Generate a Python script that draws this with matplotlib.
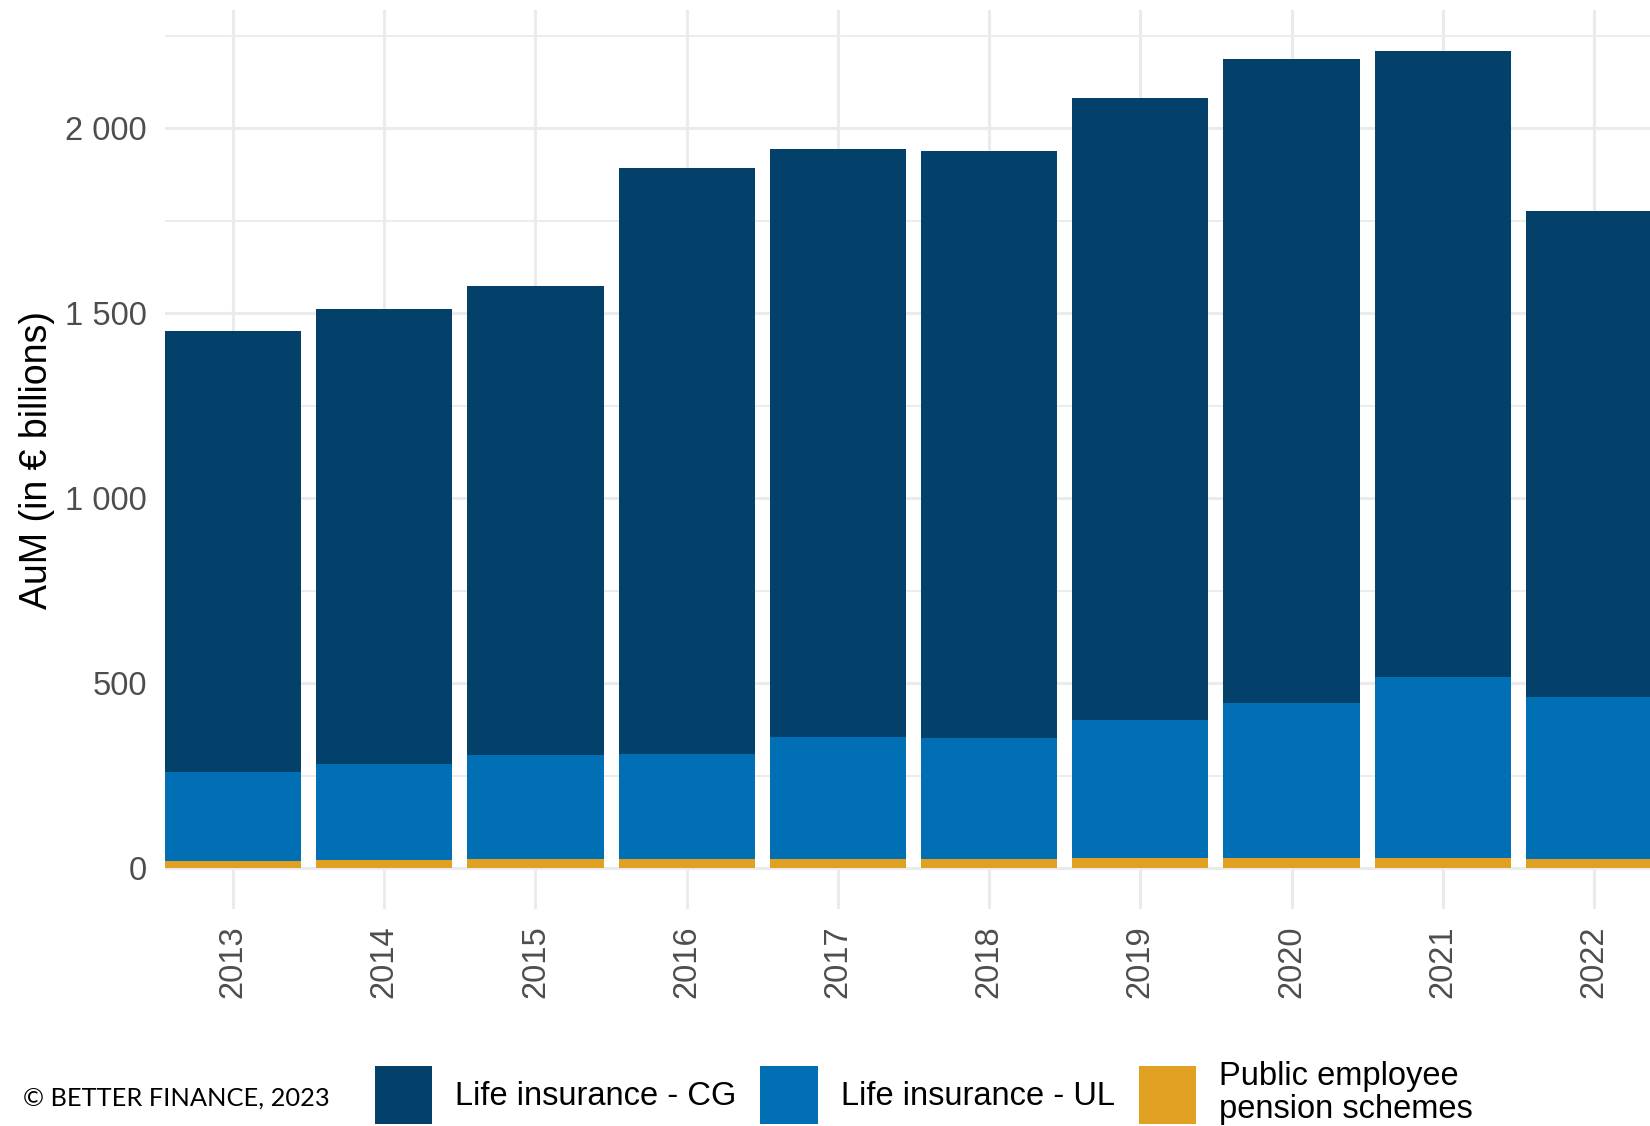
import numpy as np
import matplotlib
matplotlib.use("Agg")
import matplotlib.pyplot as plt
from matplotlib.ticker import FuncFormatter, MultipleLocator

plt.rcParams['font.family'] = ['Liberation Sans', 'DejaVu Sans']

# AuM par année (en milliards d'euros)
years = ['2013', '2014', '2015', '2016', '2017', '2018', '2019', '2020', '2021', '2022']
pension = [21, 22, 24, 25, 25, 26, 28, 29, 29, 24]
life_ul = [238, 260, 283, 285, 331, 327, 373, 418, 488, 439]
life_cg = [1192, 1231, 1266, 1584, 1587, 1587, 1681, 1740, 1692, 1313]

labels = ['Life insurance - CG', 'Life insurance - UL', 'Public employee\npension schemes']
colors = ['#03406A', '#006FB4', '#E0A021']

fig = plt.figure(figsize=(16.5, 11.26), dpi=100)
ax = fig.add_axes([165 / 1650, 1 - 909 / 1126, 1497 / 1650, 899 / 1126])

x = np.arange(len(years))
pension = np.array(pension)
life_ul = np.array(life_ul)
life_cg = np.array(life_cg)

# empilement : pension en bas, puis UL, puis CG
h_pen = ax.bar(x, pension, width=0.9, color=colors[2], zorder=3)
h_ul = ax.bar(x, life_ul, width=0.9, bottom=pension, color=colors[1], zorder=3)
h_cg = ax.bar(x, life_cg, width=0.9, bottom=pension + life_ul, color=colors[0], zorder=3)

ax.set_xlim(-0.45, 9.45)
ax.set_ylim(-110, 2320)
ax.set_xticks(x)
ax.set_xticklabels(years, rotation=90, va='top', ha='center')
ax.yaxis.set_major_locator(MultipleLocator(500))
ax.yaxis.set_minor_locator(MultipleLocator(250))
ax.yaxis.set_major_formatter(FuncFormatter(lambda v, p: f"{int(v):,}".replace(',', ' ')))

ax.grid(True, which='major', color='#EBEBEB', linewidth=2.2, zorder=0)
ax.grid(True, which='minor', axis='y', color='#EBEBEB', linewidth=1.3, zorder=0)
ax.tick_params(axis='both', which='both', length=0, labelsize=23.5, labelcolor='#4D4D4D')
ax.tick_params(axis='y', pad=13)
ax.tick_params(axis='x', pad=12)
for s in ax.spines.values():
    s.set_visible(False)

fig.text(36.8 / 1650, 1 - 460 / 1126, 'AuM (in € billions)', rotation=90,
         ha='center', va='center', fontsize=27, color='black')

leg = fig.legend([h_cg, h_ul, h_pen], labels, ncol=3, frameon=False,
                 loc='center left', bbox_to_anchor=(374.6 / 1650, 1 - 1093 / 1126),
                 fontsize=23.5, handlelength=1.75, handleheight=2.4,
                 handletextpad=0.71, columnspacing=0.74,
                 borderpad=0, borderaxespad=0)
for t in leg.get_texts():
    t.set_linespacing(1.1)

fig.text(23 / 1650, 1 - 1098 / 1126, '© BETTER FINANCE, 2023',
         ha='left', va='center', fontsize=18.3, family=['Lato', 'DejaVu Sans'])

fig.savefig('out.png', dpi=100)
